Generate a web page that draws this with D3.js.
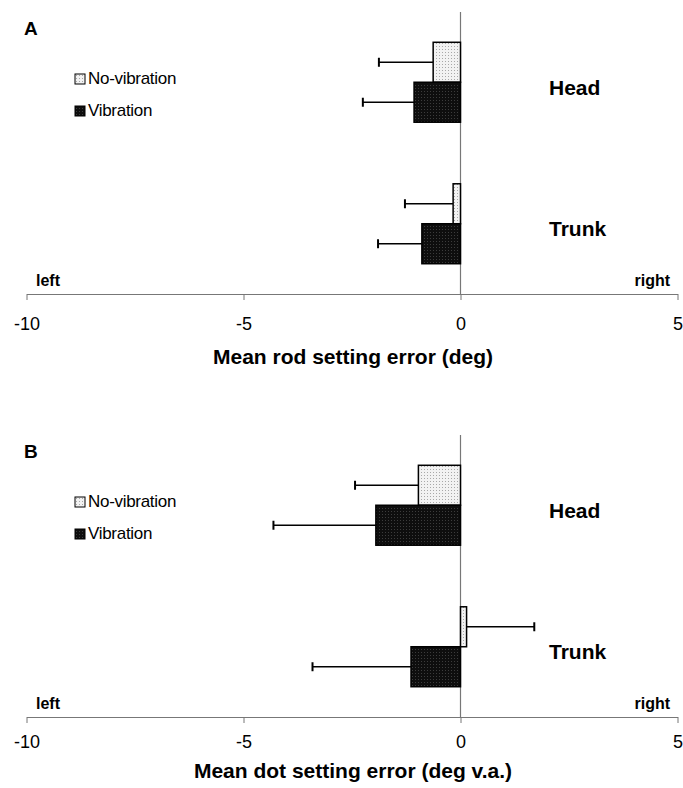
<!DOCTYPE html>
<html>
<head>
<meta charset="utf-8">
<script src="https://cdn.jsdelivr.net/npm/d3@7"></script>
<style>
  html, body { margin: 0; padding: 0; background: #fff; }
  svg { display: block; font-family: "Liberation Sans", Arial, sans-serif; }
</style>
</head>
<body>
<div id="chart"></div>
<script>
// Data
const groups = ["Head", "Trunk"];
const series = ["No-vibration", "Vibration"];
const xTicks = [-10, -5, 0, 5];

// Panel A: rod setting error (deg)
const rodNoVib    = [-0.63, -0.17];
const rodNoVibErr = [1.25, 1.11];
const rodVib      = [-1.07, -0.89];
const rodVibErr   = [1.18, 1.01];

// Panel B: dot setting error (deg v.a.)
const dotNoVib    = [-0.97, 0.14];
const dotNoVibErr = [1.46, 1.56];
const dotVib      = [-1.95, -1.14];
const dotVibErr   = [2.36, 2.27];

const W = 683, H = 788;
const svg = d3.select('#chart').append('svg').attr('width', W).attr('height', H);

// fill patterns: light stipple + dark stipple
const defs = svg.append('defs');
const pNV = defs.append('pattern').attr('id', 'patNV').attr('patternUnits', 'userSpaceOnUse')
  .attr('width', 3).attr('height', 3);
pNV.append('rect').attr('width', 3).attr('height', 3).attr('fill', '#f2f2f2');
pNV.append('rect').attr('x', 1).attr('y', 1).attr('width', 1).attr('height', 1).attr('fill', '#a8a8a8');
const pV = defs.append('pattern').attr('id', 'patV').attr('patternUnits', 'userSpaceOnUse')
  .attr('width', 3).attr('height', 3);
pV.append('rect').attr('width', 3).attr('height', 3).attr('fill', '#0e0e0e');
pV.append('rect').attr('x', 1).attr('y', 1).attr('width', 1).attr('height', 1).attr('fill', '#3c3c3c');
const fills = {"No-vibration": "url(#patNV)", "Vibration": "url(#patV)"};

const x = d3.scaleLinear().domain([-10, 5]).range([26.5, 677.5]);

function drawPanel(top, letter, means, errs, title, tickPad, titleY) {
  const g = svg.append('g').attr('transform', `translate(0,${top})`);
  const axisY = 294;

  const y = d3.scaleBand().domain(groups).range([12, axisY]).paddingInner(0.435).paddingOuter(0.214);
  const yi = d3.scaleBand().domain(series).range([0, y.bandwidth()]);

  // panel letter
  g.append('text').attr('x', 24).attr('y', 35).attr('font-size', 19).attr('font-weight', 'bold').text(letter);

  // legend
  const leg = g.append('g').attr('transform', 'translate(75,74)');
  series.forEach((s, i) => {
    leg.append('rect').attr('x', 0).attr('y', i * 32).attr('width', 10).attr('height', 10)
      .attr('fill', fills[s]).attr('stroke', '#000').attr('stroke-width', 1);
    leg.append('text').attr('x', 13).attr('y', i * 32 + 10).attr('font-size', 17)
      .attr('letter-spacing', -0.3).text(s);
  });

  // axis
  const ax = g.append('g').attr('transform', `translate(0,${axisY})`)
    .call(d3.axisBottom(x).tickValues(xTicks).tickSize(6).tickSizeOuter(0).tickPadding(tickPad).tickFormat(d3.format('d')));
  ax.select('.domain').attr('stroke', '#777');
  ax.selectAll('.tick line').attr('stroke', '#777');
  ax.selectAll('.tick text').attr('font-size', 18).attr('fill', '#000')
    .attr('font-family', '"Liberation Sans", Arial, sans-serif').text(d => d < 0 ? '-' + Math.abs(d) : d);

  // zero line
  g.append('line').attr('x1', x(0)).attr('x2', x(0)).attr('y1', 12).attr('y2', axisY)
    .attr('stroke', '#777').attr('stroke-width', 1.2);

  // bars + error bars
  series.forEach((s, si) => {
    groups.forEach((grp, gi) => {
      const v = means[si][gi], e = errs[si][gi];
      const y0 = y(grp) + yi(s), h = yi.bandwidth(), cy = y0 + h / 2;
      const end = v < 0 ? v - e : v + e;
      g.append('line').attr('x1', x(v)).attr('x2', x(end)).attr('y1', cy).attr('y2', cy)
        .attr('stroke', '#000').attr('stroke-width', 1.5);
      g.append('line').attr('x1', x(end)).attr('x2', x(end)).attr('y1', cy - 4.5).attr('y2', cy + 4.5)
        .attr('stroke', '#000').attr('stroke-width', 2);
      g.append('rect').attr('x', x(Math.min(0, v))).attr('width', Math.abs(x(v) - x(0)))
        .attr('y', y0).attr('height', h)
        .attr('fill', fills[s]).attr('stroke', '#000').attr('stroke-width', 1.5);
    });
  });

  // group labels
  groups.forEach(grp => {
    g.append('text').attr('x', 549).attr('y', y(grp) + y.bandwidth() / 2 + 12.5)
      .attr('font-size', 21).attr('font-weight', 'bold').text(grp);
  });

  // direction labels
  g.append('text').attr('x', 36).attr('y', axisY - 8).attr('font-size', 16).attr('font-weight', 'bold').text('left');
  g.append('text').attr('x', 670).attr('y', axisY - 8).attr('font-size', 16).attr('font-weight', 'bold')
    .attr('text-anchor', 'end').text('right');

  // axis title
  g.append('text').attr('x', 353).attr('y', titleY).attr('font-size', 21).attr('font-weight', 'bold')
    .attr('text-anchor', 'middle').text(title);
}

drawPanel(0, 'A', [rodNoVib, rodVib], [rodNoVibErr, rodVibErr], 'Mean rod setting error (deg)', 17, 364);
drawPanel(423, 'B', [dotNoVib, dotVib], [dotNoVibErr, dotVibErr], 'Mean dot setting error (deg v.a.)', 12, 355);
</script>
</body>
</html>
